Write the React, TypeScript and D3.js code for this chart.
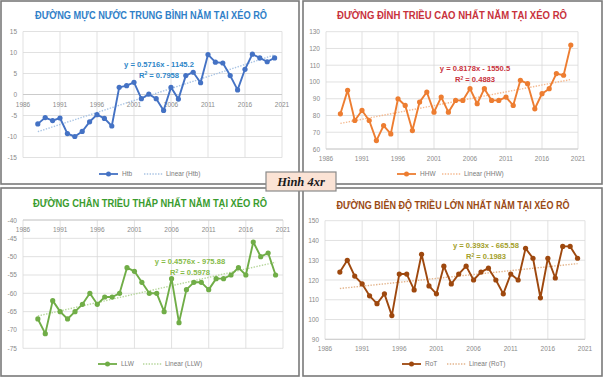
import React from "react";
import * as d3 from "d3";

const years = [1988, 1989, 1990, 1991, 1992, 1993, 1994, 1995, 1996, 1997, 1998, 1999, 2000, 2001, 2002, 2003, 2004, 2005, 2006, 2007, 2008, 2009, 2010, 2011, 2012, 2013, 2014, 2015, 2016, 2017, 2018, 2019, 2020];
const htb = [-7, -5.5, -6.2, -5.6, -9.3, -10, -8.8, -6.5, -4.8, -5.7, -7.5, 1.7, 2.1, 2.9, -1, 0.1, -1, -3.8, 1.7, -1.1, 4.5, 5.3, 2.8, 9.5, 7.7, 7.5, 4.5, 1.1, 6, 9.6, 8.7, 7.8, 8.7];
const hhw = [81, 95, 77, 83, 77, 65, 74, 69, 90, 86, 71, 88, 94, 82, 91, 82, 89, 89, 96, 87, 96, 89, 89, 91, 86, 101, 99, 84, 93, 96, 105, 104, 122];
const llw = [-67, -71, -62, -65, -67, -65, -63, -60, -63, -61, -61, -60, -53, -54, -57, -60, -60, -65, -56, -68, -59, -57, -57, -59, -56, -56, -55, -53, -55, -46, -50, -49, -55];
const rot = [124, 130, 122, 118, 112, 108, 113, 102, 123, 123, 115, 133, 117, 113, 127, 118, 123, 127, 120, 124, 126, 120, 113, 123, 120, 136, 131, 111, 131, 121, 137, 137, 131];
const xTicks = [1986, 1991, 1996, 2001, 2006, 2011, 2016, 2021];
const htbTicks = [15, 10, 5, 0, -5, -10, -15];
const hhwTicks = [130, 120, 110, 100, 90, 80, 70, 60];
const llwTicks = [-40, -45, -50, -55, -60, -65, -70, -75];
const rotTicks = [150, 140, 130, 120, 110, 100, 90];
const trends = [
  { slope: 0.5716, icpt: -1145.2, r2: "0.7958", eq: "y = 0.5716x - 1145.2" },
  { slope: 0.8178, icpt: -1550.5, r2: "0.4883", eq: "y = 0.8178x - 1550.5" },
  { slope: 0.4576, icpt: -975.88, r2: "0.5978", eq: "y = 0.4576x - 975.88" },
  { slope: 0.393, icpt: -665.58, r2: "0.1983", eq: "y = 0.393x - 665.58" },
];
const titles = [
  "ĐƯỜNG MỰC NƯỚC TRUNG BÌNH NĂM TẠI XÉO RÔ",
  "ĐƯỜNG ĐỈNH TRIỀU CAO NHẤT NĂM TẠI XÉO RÔ",
  "ĐƯỜNG CHÂN TRIỀU THẤP NHẤT NĂM TẠI XÉO RÔ",
  "ĐƯỜNG BIÊN ĐỘ TRIỀU LỚN NHẤT NĂM TẠI XÉO RÔ",
];
const seriesNames = ["Htb", "HHW", "LLW", "RoT"];

const FONT = "'Liberation Sans', Arial, sans-serif";

type Cfg = {
  frame: [number, number, number, number];
  title: string;
  titleX: number; titleY: number; titleW: number; titleColor: string;
  values: number[];
  ticks: number[];
  xr: [number, number];
  yr: [number, number];
  axisAt: number;
  color: string; trendColor: string; eqColor: string;
  trend: typeof trends[0];
  eqX: number; eqY: number; r2Y: number;
  legX: number; legY: number; name: string;
};

function Panel({ c }: { c: Cfg }) {
  const x = d3.scaleLinear().domain([1986, 2021]).range(c.xr);
  const y = d3.scaleLinear().domain([c.ticks[c.ticks.length - 1], c.ticks[0]]).range([c.yr[1], c.yr[0]]);
  const line = d3.line<number>().x((_, i) => x(years[i])).y((v) => y(v));
  const t0 = years[0], t1 = years[years.length - 1];
  const [fx, fy, fw, fh] = c.frame;
  return (
    <g>
      <rect x={fx} y={fy} width={fw} height={fh} fill="#fff" stroke="#7a7a7a" strokeWidth={1.6} />
      <text x={c.titleX} y={c.titleY} textAnchor="middle" fontFamily={FONT} fontWeight="bold" fontSize={10}
        fill={c.titleColor} textLength={c.titleW} lengthAdjust="spacingAndGlyphs">{c.title}</text>
      {c.ticks.map((t) => (
        <g key={"h" + t}>
          <line x1={c.xr[0]} x2={c.xr[1]} y1={y(t)} y2={y(t)} stroke="#d9d9d9" strokeWidth={0.8} />
          <text x={c.xr[0] - 6} y={y(t) + 2.5} textAnchor="end" fontFamily={FONT} fontSize={6.5} fill="#8a8a8a">{t}</text>
        </g>
      ))}
      {xTicks.map((t) => (
        <g key={"v" + t}>
          <line x1={x(t)} x2={x(t)} y1={c.yr[0]} y2={c.yr[1]} stroke="#d9d9d9" strokeWidth={0.8} />
          <text x={x(t)} y={y(c.axisAt) + 12} textAnchor="middle" fontFamily={FONT} fontSize={6.5} fill="#8a8a8a">{t}</text>
        </g>
      ))}
      <line x1={c.xr[0]} x2={c.xr[1]} y1={y(c.axisAt)} y2={y(c.axisAt)} stroke="#c8c8c8" strokeWidth={0.9} />
      <line x1={x(t0)} x2={x(t1)} y1={y(c.trend.slope * t0 + c.trend.icpt)} y2={y(c.trend.slope * t1 + c.trend.icpt)}
        stroke={c.trendColor} strokeWidth={1.4} strokeDasharray="1.4,1.4" />
      <path d={line(c.values) || ""} fill="none" stroke={c.color} strokeWidth={1.9} strokeLinejoin="round" />
      {c.values.map((v, i) => (
        <circle key={i} cx={x(years[i])} cy={y(v)} r={2.6} fill={c.color} />
      ))}
      <text x={c.eqX} y={c.eqY} textAnchor="middle" fontFamily={FONT} fontWeight="bold" fontSize={7.6} fill={c.eqColor}>{c.trend.eq}</text>
      <text x={c.eqX} y={c.r2Y} textAnchor="middle" fontFamily={FONT} fontWeight="bold" fontSize={7.6} fill={c.eqColor}>
        R<tspan dy={-2.5} fontSize={5}>2</tspan><tspan dy={2.5}> = {c.trend.r2}</tspan>
      </text>
      <line x1={c.legX} x2={c.legX + 19} y1={c.legY} y2={c.legY} stroke={c.color} strokeWidth={1.8} />
      <circle cx={c.legX + 9.5} cy={c.legY} r={2.5} fill={c.color} />
      <text x={c.legX + 23} y={c.legY + 2.3} fontFamily={FONT} fontSize={6.5} fill="#7a7a7a">{c.name}</text>
      <line x1={c.legX + 45} x2={c.legX + 64} y1={c.legY} y2={c.legY} stroke={c.trendColor} strokeWidth={1.3} strokeDasharray="1.4,1.4" />
      <text x={c.legX + 67} y={c.legY + 2.3} fontFamily={FONT} fontSize={6.5} fill="#7a7a7a">{`Linear (${c.name})`}</text>
    </g>
  );
}

export default function App() {
  const cfgs: Cfg[] = [
    {
      frame: [1, 1, 298, 183], title: titles[0], titleX: 151, titleY: 19, titleW: 232, titleColor: "#2f80c8",
      values: htb, ticks: htbTicks, xr: [23, 282], yr: [31.5, 157.5], axisAt: 0,
      color: "#4472c4", trendColor: "#a9c4e4", eqColor: "#2e86c8", trend: trends[0],
      eqX: 159, eqY: 67, r2Y: 77.5, legX: 99, legY: 174, name: seriesNames[0],
    },
    {
      frame: [303, 1, 299, 183], title: titles[1], titleX: 452, titleY: 19, titleW: 230, titleColor: "#c8323c",
      values: hhw, ticks: hhwTicks, xr: [326, 578], yr: [31.7, 149], axisAt: 60,
      color: "#ed7d31", trendColor: "#f5b98f", eqColor: "#c8323c", trend: trends[1],
      eqX: 475, eqY: 71, r2Y: 82, legX: 397, legY: 174, name: seriesNames[1],
    },
    {
      frame: [1, 188, 298, 188], title: titles[2], titleX: 150, titleY: 207, titleW: 234, titleColor: "#3a9c2e",
      values: llw, ticks: llwTicks, xr: [23, 283], yr: [220, 348.3], axisAt: -40,
      color: "#70ad47", trendColor: "#b5d69a", eqColor: "#86bb4a", trend: trends[2],
      eqX: 190, eqY: 264, r2Y: 275, legX: 98, legY: 364, name: seriesNames[2],
    },
    {
      frame: [303, 188, 299, 188], title: titles[3], titleX: 453, titleY: 209, titleW: 233, titleColor: "#9a4a14",
      values: rot, ticks: rotTicks, xr: [325, 585], yr: [220.7, 339.3], axisAt: 90,
      color: "#9e480e", trendColor: "#e3b48c", eqColor: "#a3a02a", trend: trends[3],
      eqX: 486, eqY: 248, r2Y: 259, legX: 402, legY: 364, name: seriesNames[3],
    },
  ];
  return (
    <svg width={603} height={377} style={{ position: "absolute", left: 0, top: 0 }}>
      <rect x={0} y={0} width={603} height={377} fill="#fff" />
      {cfgs.map((c, i) => <Panel key={i} c={c} />)}
      <rect x={266} y={172} width={70} height={19} fill="#fbe3d5" stroke="#8a8a8a" strokeWidth={1.2} />
      <text x={301} y={186} textAnchor="middle" fontFamily="'Liberation Serif', 'DejaVu Serif', serif" fontWeight="bold"
        fontStyle="italic" fontSize={12.5} fill="#1a1a1a">Hình 4xr</text>
    </svg>
  );
}
